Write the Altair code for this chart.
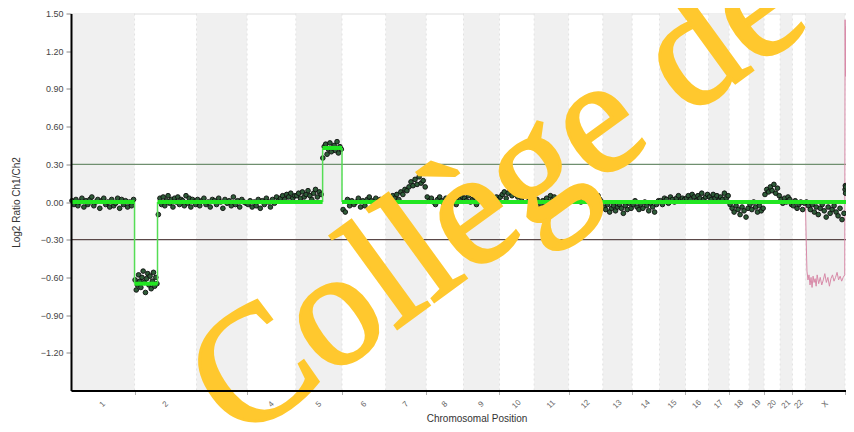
import altair as alt
import pandas as pd

# ---------------- data ----------------
chrom_names = ["1", "2", "3", "4", "5", "6", "7", "8", "9", "10", "11", "12",
               "13", "14", "15", "16", "17", "18", "19", "20", "21", "22", "X", "Y"]
chrom_sizes = [249, 243, 198, 191, 181, 171, 159, 146, 141, 136, 135, 134,
               115, 107, 102, 90, 81, 78, 59, 63, 48, 51, 155, 59]
x_max = 3037  # visible end of the genome axis (Mb)

y_ticks = [-1.2, -0.9, -0.6, -0.3, 0.0, 0.3, 0.6, 0.9, 1.2, 1.5]
gain_threshold = 0.3
loss_threshold = -0.3

# probe log2 ratios, per chromosome piece: (chrom, start Mb, end Mb, values)
probe_pieces = [
    ("1", 0, 249, [0.01, -0.02, 0.02, -0.03, 0.00, 0.03, -0.04, 0.01, -0.02, 0.02, 0.04,
                   -0.03, 0.00, 0.02, -0.05, 0.01, 0.03, -0.02, 0.00, -0.04, 0.02, -0.03,
                   -0.01, 0.03, -0.05, 0.02, -0.02, 0.01, -0.04, 0.00, -0.03, 0.02]),
    ("2", 0, 90, [-0.62, -0.70, -0.66, -0.58, -0.63, -0.68, -0.60, -0.55, -0.64, -0.72,
                  -0.61, -0.57, -0.66, -0.59, -0.69, -0.63, -0.56, -0.67, -0.60, -0.65]),
    ("2", 90, 243, [-0.10, 0.03, -0.02, 0.04, -0.03, 0.01, 0.05, -0.01, 0.02, -0.04, 0.03,
                    0.00, 0.04, -0.02, 0.02, 0.01, -0.03, 0.05, -0.01, 0.03, -0.04, 0.02,
                    0.00, -0.02]),
    ("3", 0, 198, [0.02, -0.03, 0.01, 0.03, -0.02, 0.00, -0.04, 0.02, 0.01, -0.02, 0.03,
                   0.00, -0.05, 0.02, -0.01, 0.01, -0.03, 0.04, -0.02, 0.01, -0.04, 0.02,
                   0.00, -0.01]),
    ("4", 0, 191, [-0.02, 0.01, -0.04, 0.00, -0.03, 0.02, -0.05, 0.01, -0.02, 0.03, 0.00,
                   -0.04, 0.02, -0.01, 0.04, 0.01, 0.03, 0.05, 0.02, 0.06, 0.04, 0.07,
                   0.03, 0.05]),
    ("5", 0, 103, [0.05, 0.07, 0.03, 0.08, 0.04, 0.06, 0.09, 0.05, 0.02, 0.07, 0.10, 0.04,
                   0.08, 0.06]),
    ("5", 103, 181, [0.35, 0.44, 0.46, 0.38, 0.42, 0.47, 0.40, 0.43, 0.45, 0.41, 0.48,
                     0.39, 0.44, 0.42]),
    ("6", 0, 171, [-0.06, -0.08, 0.02, -0.03, 0.01, -0.02, 0.00, 0.03, -0.04, 0.01, -0.03,
                   0.02, 0.04, 0.01, -0.02, 0.03, 0.00, 0.02, -0.01, 0.03]),
    ("7", 0, 159, [0.02, 0.04, 0.01, 0.05, 0.03, 0.06, 0.02, 0.08, 0.06, 0.10, 0.09, 0.12,
                   0.16, 0.13, 0.18, 0.14, 0.20, 0.15, 0.17, 0.12]),
    ("8", 0, 146, [0.04, 0.01, 0.03, 0.00, -0.02, 0.02, 0.04, 0.01, -0.01, 0.03, 0.02,
                   0.00, 0.05, 0.01, -0.02, 0.03, 0.02, 0.04]),
    ("9", 0, 141, [0.03, 0.01, 0.05, 0.00, 0.02, 0.04, -0.02, 0.03, 0.01, 0.05, 0.02,
                   0.04, 0.06, 0.01, 0.03, 0.00, 0.04, 0.02]),
    ("10", 0, 136, [0.04, 0.06, 0.08, 0.03, 0.07, 0.10, 0.05, 0.09, 0.06, 0.04, 0.08,
                    0.03, 0.07, 0.05, 0.09, 0.02, 0.06, 0.04]),
    ("11", 0, 135, [-0.03, 0.02, -0.05, -0.02, 0.01, -0.04, 0.03, 0.00, 0.05, 0.02, 0.04,
                    0.01, -0.06, 0.03, -0.02, 0.02, 0.06, 0.01]),
    ("12", 0, 134, [0.03, 0.05, 0.01, 0.04, 0.02, 0.06, 0.00, 0.03, 0.05, 0.01, 0.04,
                    0.02, -0.02, 0.03, 0.01, 0.05, 0.02, 0.00]),
    ("13", 0, 115, [-0.04, -0.06, -0.02, -0.08, -0.05, -0.03, -0.07, -0.04, -0.02, -0.05,
                    -0.09, -0.03, -0.06, -0.01, -0.05]),
    ("14", 0, 107, [-0.02, 0.01, -0.04, -0.06, -0.02, -0.05, 0.00, -0.03, -0.07, -0.01,
                    -0.04, -0.08, -0.02, 0.01]),
    ("15", 0, 102, [0.01, -0.02, 0.03, 0.02, -0.01, 0.04, 0.02, 0.00, 0.03, 0.05, 0.01,
                    0.03, 0.02]),
    ("16", 0, 90, [0.03, 0.05, 0.02, 0.06, 0.04, 0.01, 0.05, 0.03, 0.07, 0.02, 0.04, 0.06]),
    ("17", 0, 81, [0.04, 0.02, 0.06, 0.03, 0.05, 0.01, 0.04, 0.02, 0.07, 0.03, 0.05]),
    ("18", 0, 78, [-0.02, -0.05, -0.08, -0.03, -0.06, -0.10, -0.04, -0.07, -0.12, -0.05]),
    ("19", 0, 59, [-0.02, -0.06, 0.00, -0.04, -0.08, -0.03, -0.07, -0.05]),
    ("20", 0, 63, [0.06, 0.10, 0.08, 0.12, 0.09, 0.14, 0.07, 0.11, 0.05]),
    ("21", 0, 48, [0.02, -0.01, 0.03, 0.00, 0.04, 0.02, -0.02]),
    ("22", 0, 51, [-0.03, 0.01, -0.05, -0.02, 0.00, -0.06, -0.01]),
    ("X", 0, 155, [0.00, -0.03, -0.06, -0.02, -0.08, -0.04, -0.10, -0.05, -0.02, -0.07,
                   -0.12, -0.04, -0.09, -0.06, -0.03, -0.08, -0.11, -0.05, -0.14, -0.09]),
    ("Y", 0, 4, [0.10, 0.13, 0.07, 0.12]),
]

# segmentation calls (genome Mb)
seg_start = [0, 249, 339, 986, 1062]
seg_end = [249, 339, 986, 1062, x_max]
seg_value = [0.0, -0.65, 0.0, 0.43, 0.0]

# second (pink) trace on the sex chromosomes: (chrom, Mb in chrom, value)
pink_chrom = ["X"] * 31 + ["Y"] * 15
pink_pos = [0, 3, 6, 10, 14, 18, 22, 26, 30, 34, 38, 42, 46, 52, 58, 64, 70, 76, 82, 88,
            94, 100, 106, 112, 118, 124, 130, 136, 142, 148, 154,
            0.5, 2, 4, 6, 8, 10, 12, 14, 16, 18, 20, 22, 24, 26, 28]
pink_val = [0.0, -0.30, -0.55, -0.62, -0.58, -0.66, -0.60, -0.68, -0.59, -0.64, -0.61,
            -0.67, -0.58, -0.65, -0.60, -0.66, -0.62, -0.57, -0.64, -0.60, -0.67, -0.61,
            -0.58, -0.63, -0.60, -0.56, -0.62, -0.59, -0.63, -0.60, -0.58,
            1.45, 1.00, 1.40, 0.85, 1.30, 0.95, 1.35, 0.80, 1.20, 0.90, 1.40, 0.78, 1.10,
            0.85, 1.25]

# ---------------- derived tables ----------------
chrom_start = {}
acc = 0
band_rows = []
for i, (n, s) in enumerate(zip(chrom_names, chrom_sizes)):
    chrom_start[n] = acc
    band_rows.append({"chrom": n, "start": acc, "end": min(acc + s, x_max),
                      "mid": acc + s / 2, "shade": i % 2 == 0})
    acc += s
bands = pd.DataFrame(band_rows)
boundaries = [r["start"] for r in band_rows[1:]]
bound_df = pd.DataFrame({"pos": boundaries})

pt_rows = []
for chrom, a, b, vals in probe_pieces:
    n = len(vals)
    for k, v in enumerate(vals):
        pt_rows.append({"pos": chrom_start[chrom] + a + (k + 0.5) * (b - a) / n, "ratio": v})
points = pd.DataFrame(pt_rows)

segs = pd.DataFrame({"start": seg_start, "end": seg_end, "value": seg_value})
steps = pd.DataFrame({"pos": seg_start[1:], "y1": seg_value[:-1], "y2": seg_value[1:]})

pink = pd.DataFrame({"pos": [chrom_start[c] + p for c, p in zip(pink_chrom, pink_pos)],
                     "ratio": pink_val, "order": list(range(len(pink_val)))})

thr = pd.DataFrame({"value": [gain_threshold, loss_threshold], "kind": ["gain", "loss"]})

W, H = 775, 377
xs = alt.Scale(domain=[0, x_max], nice=False, zero=False)
ys = alt.Scale(domain=[-1.5, 1.5], nice=False, zero=False)

x_axis = alt.Axis(values=boundaries, labels=False, title=None, grid=False, zindex=2,
                  tickSize=4, tickColor="#b0b0b0", domainColor="#000000", domainWidth=2)
y_axis = alt.Axis(values=y_ticks, format=".2f", title="Log2 Ratio Ch1/Ch2", grid=False,
                  zindex=2, tickSize=5, tickColor="#888888", domainColor="#000000",
                  domainWidth=2, labelFont="Liberation Sans", labelFontSize=9,
                  labelColor="#444444", labelPadding=3, titleFont="Liberation Sans",
                  titleFontSize=10, titleFontWeight="normal", titleColor="#333333",
                  titlePadding=19)

band_layer = alt.Chart(bands).transform_filter("datum.shade").mark_rect(
    color="#f0f0f0").encode(
    x=alt.X("start:Q", scale=xs, axis=x_axis), x2="end:Q",
    y=alt.value(0), y2=alt.value(H))

bound_layer = alt.Chart(bound_df).mark_rule(
    color="#e2e2e2", strokeWidth=1, strokeDash=[2, 3]).encode(
    x=alt.X("pos:Q", scale=xs), y=alt.value(0), y2=alt.value(H))

thr_layer = alt.Chart(thr).mark_rule(strokeWidth=1.2).encode(
    y=alt.Y("value:Q", scale=ys, axis=y_axis),
    color=alt.Color("kind:N", scale=alt.Scale(domain=["gain", "loss"],
                                              range=["#6f8f6f", "#5a4848"]), legend=None))

pink_layer = alt.Chart(pink).mark_line(color="#d88aa8", strokeWidth=1).encode(
    x=alt.X("pos:Q", scale=xs), y=alt.Y("ratio:Q", scale=ys), order="order:Q")

pt_layer = alt.Chart(points).mark_circle(
    size=22, color="#2e5c38", opacity=1, stroke="#0d0d0d", strokeWidth=0.9).encode(
    x=alt.X("pos:Q", scale=xs), y=alt.Y("ratio:Q", scale=ys))

step_layer = alt.Chart(steps).mark_rule(color="#55dd55", strokeWidth=1.5).encode(
    x=alt.X("pos:Q", scale=xs), y=alt.Y("y1:Q", scale=ys), y2="y2:Q")

seg_layer = alt.Chart(segs).mark_rule(color="#22e622", strokeWidth=4).encode(
    x=alt.X("start:Q", scale=xs), x2="end:Q", y=alt.Y("value:Q", scale=ys))

lab_layer = alt.Chart(bands).mark_text(
    angle=315, fontSize=8, color="#666666", font="Liberation Sans",
    align="center", baseline="middle").encode(
    x=alt.X("mid:Q", scale=xs), y=alt.value(H + 14), text="chrom:N")

xtitle = alt.Chart(pd.DataFrame({"t": ["Chromosomal Position"]})).mark_text(
    fontSize=10, color="#333333", font="Liberation Sans", align="center",
    baseline="middle").encode(x=alt.value(406), y=alt.value(H + 28), text="t:N")

watermark = alt.Chart(pd.DataFrame({"t": ["Collège de"]})).mark_text(
    fontSize=165, font="Liberation Serif", color="#FFC82E", stroke="#FFC82E",
    strokeWidth=3, angle=324, align="left", baseline="alphabetic").encode(
    x=alt.value(168), y=alt.value(430), text="t:N")

chart = alt.layer(band_layer, bound_layer, thr_layer, pink_layer, pt_layer, step_layer,
                  seg_layer, lab_layer, xtitle, watermark).properties(
    width=W, height=H,
    autosize=alt.AutoSizeParams(type="none"),
    padding={"left": 63, "top": 5.5, "right": 0, "bottom": 33.5},
).configure_view(stroke=None).configure(background="white")

chart.save("out.html", embed_options={"renderer": "svg", "actions": False})
